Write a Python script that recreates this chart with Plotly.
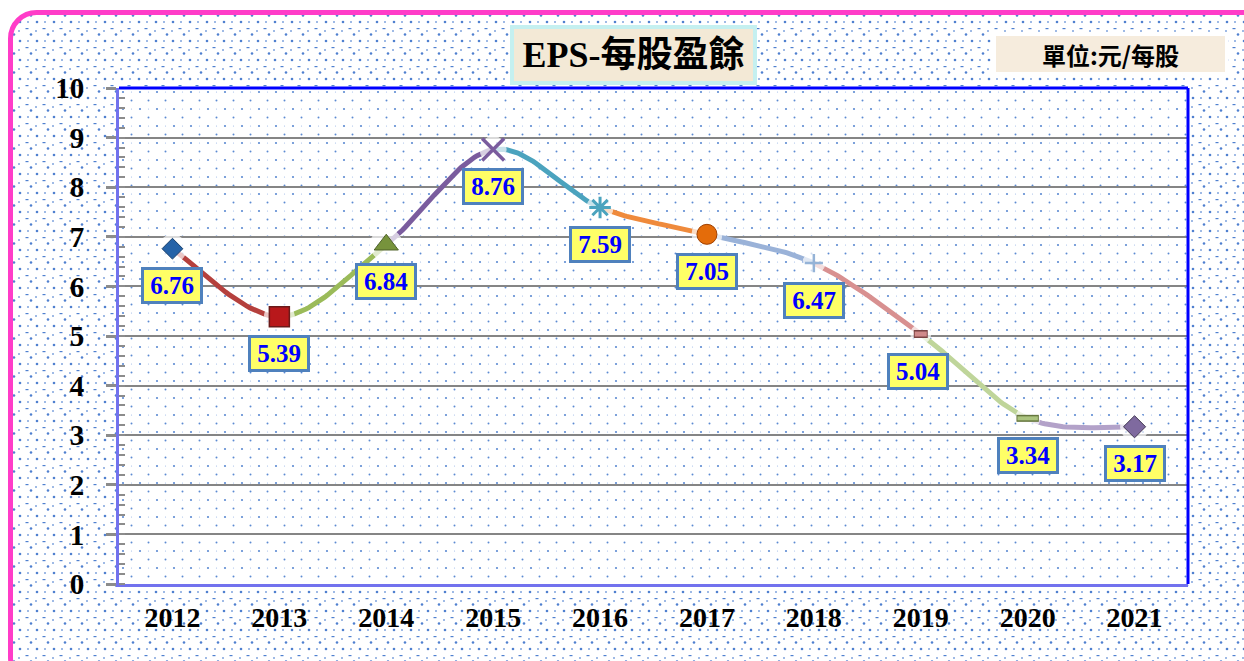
import base64
import plotly.graph_objects as go

# ---------------- data ----------------
years = ['2012', '2013', '2014', '2015', '2016', '2017', '2018', '2019', '2020', '2021']
eps = [6.76, 5.39, 6.84, 8.76, 7.59, 7.05, 6.47, 5.04, 3.34, 3.17]
y_ticks = list(range(0, 11))

# ---------------- styles ----------------
seg_colors = ['#B5403D', '#9BBB59', '#7A5C9E', '#4BA3BE', '#EF8A3C',
              '#9AB2D8', '#D89090', '#BFD59A', '#B3A2C9']
marker_styles = [
    dict(symbol='diamond', color='#2563A8', line=dict(color='#173E6B', width=1), size=16),
    dict(symbol='square', color='#B8181B', line=dict(color='#6A1A1A', width=1.5), size=20),
    dict(symbol='triangle-up', color='#77933C', line=dict(color='#4F6228', width=1), size=21),
    dict(symbol='x-thin-open', color='#7A5C9E', line=dict(color='#7A5C9E', width=3.5), size=22),
    dict(symbol='asterisk-open', color='#4BA3BE', line=dict(color='#4BA3BE', width=3), size=18),
    dict(symbol='circle', color='#E46C0A', line=dict(color='#A04000', width=1), size=20),
    dict(symbol='cross-thin-open', color='#95B3D7', line=dict(color='#95B3D7', width=2.5), size=13),
]
halo_sizes = [28, 30, 32, 26, 26, 30, 22, 20, 24, 28]

W, H = 1244, 661
ML, MR, MT, MB = 119, 56, 88, 77
PW, PH = W - ML - MR, H - MT - MB


def svg_uri(svg):
    return 'data:image/svg+xml;base64,' + base64.b64encode(svg.encode('utf-8')).decode('ascii')


outer_svg = f"""<svg xmlns='http://www.w3.org/2000/svg' width='{W}' height='{H}' viewBox='0 0 {W} {H}' preserveAspectRatio='none'>
<defs><pattern id='p' width='17' height='19' patternUnits='userSpaceOnUse'>
<circle cx='3' cy='3' r='1.3' fill='#4F80CF'/>
<rect x='8.5' y='9' width='3' height='1.2' fill='#4F80CF'/>
<circle cx='14' cy='15.5' r='1.3' fill='#4F80CF'/>
<circle cx='11' cy='3' r='1.0' fill='#7FA3DD'/>
<circle cx='2' cy='12' r='1.0' fill='#7FA3DD'/>
</pattern></defs>
<rect width='{W}' height='{H}' fill='white'/>
<rect x='10.5' y='12.5' width='{W + 20}' height='{H + 10}' rx='26' fill='white'/>
<rect x='10.5' y='12.5' width='{W + 20}' height='{H + 10}' rx='26' fill='url(#p)' stroke='#FF3CC8' stroke-width='5'/>
</svg>"""

inner_svg = f"""<svg xmlns='http://www.w3.org/2000/svg' width='{PW}' height='{PH}' viewBox='0 0 {PW} {PH}' preserveAspectRatio='none'>
<defs><pattern id='q' width='17' height='17' patternUnits='userSpaceOnUse'>
<circle cx='4' cy='4' r='1.1' fill='#5C8AD2'/>
<circle cx='12.5' cy='12.5' r='1.0' fill='#5C8AD2'/>
<circle cx='12.5' cy='4' r='0.6' fill='#9DB8E6'/>
</pattern></defs>
<rect width='{PW}' height='{PH}' fill='white'/>
<rect width='{PW}' height='{PH}' fill='url(#q)'/>
</svg>"""


# ---------------- smooth curve (Excel-like Bezier through points) ----------------
def bezier_segment(i, n=40):
    N = len(eps)
    P = [(k, eps[k]) for k in range(N)]
    pm = P[max(i - 1, 0)]
    p0 = P[i]
    p1 = P[i + 1]
    p2 = P[min(i + 2, N - 1)]
    c1 = (p0[0] + (p1[0] - pm[0]) / 6, p0[1] + (p1[1] - pm[1]) / 6)
    c2 = (p1[0] - (p2[0] - p0[0]) / 6, p1[1] - (p2[1] - p0[1]) / 6)
    xs, ys = [], []
    for j in range(n + 1):
        t = j / n
        a, b, c, d = (1 - t) ** 3, 3 * (1 - t) ** 2 * t, 3 * (1 - t) * t ** 2, t ** 3
        xs.append(a * p0[0] + b * c1[0] + c * c2[0] + d * p1[0])
        ys.append(a * p0[1] + b * c1[1] + c * c2[1] + d * p1[1])
    return xs, ys


fig = go.Figure()

for i in range(len(eps) - 1):
    bx, by = bezier_segment(i)
    fig.add_trace(go.Scatter(x=bx, y=by, mode='lines', hoverinfo='skip',
                             line=dict(color=seg_colors[i], width=5), showlegend=False))

idx = list(range(len(eps)))
# white halo around markers
fig.add_trace(go.Scatter(x=idx, y=eps, mode='markers', hoverinfo='skip', showlegend=False,
                         marker=dict(symbol='circle', color='white', size=halo_sizes)))

for i, st in enumerate(marker_styles):
    fig.add_trace(go.Scatter(x=[idx[i]], y=[eps[i]], mode='markers', showlegend=False,
                             marker=dict(symbol=st['symbol'], color=st['color'],
                                         size=st['size'], line=st['line'])))

# 2019 small rectangle marker
fig.add_trace(go.Scatter(x=[idx[7]], y=[eps[7]], mode='markers', showlegend=False,
                         marker=dict(symbol='line-ew', size=10, color='#7A4444',
                                     line=dict(color='#7A4444', width=8))))
fig.add_trace(go.Scatter(x=[idx[7]], y=[eps[7]], mode='markers', showlegend=False,
                         marker=dict(symbol='line-ew', size=8.6, color='#D08A8A',
                                     line=dict(color='#D08A8A', width=5))))
# 2020 long rectangle marker
fig.add_trace(go.Scatter(x=[idx[8]], y=[eps[8]], mode='markers', showlegend=False,
                         marker=dict(symbol='line-ew', size=16, color='#66773F',
                                     line=dict(color='#66773F', width=7))))
fig.add_trace(go.Scatter(x=[idx[8]], y=[eps[8]], mode='markers', showlegend=False,
                         marker=dict(symbol='line-ew', size=14.6, color='#ABC47F',
                                     line=dict(color='#ABC47F', width=4))))
# 2021 diamond
fig.add_trace(go.Scatter(x=[idx[9]], y=[eps[9]], mode='markers', showlegend=False,
                         marker=dict(symbol='diamond', size=17, color='#7F6A9F',
                                     line=dict(color='#3F3550', width=1))))

# data labels
label_xshift = [0, 0, 0, 0, 0, 0, 0, -3, 0, 0]
for i, v in enumerate(eps):
    fig.add_annotation(x=idx[i], y=v, text=f'{v:.2f}', showarrow=False,
                       xshift=label_xshift[i], yshift=-37, xanchor='center', yanchor='middle',
                       width=56, height=31, bgcolor='#FFFF66', bordercolor='#4F81BD',
                       borderwidth=3, borderpad=0,
                       font=dict(family='Liberation Serif', size=25, color='#0000FF', weight='bold'))

# title box
fig.add_annotation(xref='paper', yref='paper', x=(633 - ML) / PW, y=1 + (MT - 55) / PH,
                   xanchor='center', yanchor='middle',
                   text='EPS-每股盈餘', showarrow=False, width=239, height=52,
                   bgcolor='#F3E9D6', bordercolor='#C5F0F0', borderwidth=4, borderpad=0,
                   font=dict(family="Liberation Serif, 'Noto Sans CJK TC'", size=36,
                             color='black', weight='bold'))
# unit box
fig.add_annotation(xref='paper', yref='paper', x=(1110 - ML) / PW, y=1 + (MT - 54) / PH,
                   xanchor='center', yanchor='middle',
                   text='單位:元/每股', showarrow=False, width=229, height=36,
                   bgcolor='#F6ECDD', bordercolor='white', borderwidth=3, borderpad=0,
                   font=dict(family="'Noto Sans CJK TC'", size=24, color='black', weight='bold'))

fig.update_layout(
    width=W, height=H,
    margin=dict(l=ML, r=MR, t=MT, b=MB, pad=0),
    paper_bgcolor='white', plot_bgcolor='rgba(0,0,0,0)',
    images=[
        dict(source=svg_uri(outer_svg), xref='paper', yref='paper',
             x=-ML / PW, y=1 + MT / PH, sizex=W / PW, sizey=H / PH,
             xanchor='left', yanchor='top', sizing='stretch', layer='below'),
        dict(source=svg_uri(inner_svg), xref='paper', yref='paper',
             x=0, y=1, sizex=1, sizey=1,
             xanchor='left', yanchor='top', sizing='stretch', layer='below'),
    ],
    xaxis=dict(range=[-0.5, 9.5], tickvals=idx, ticktext=years, ticks='',
               showgrid=False, zeroline=False, showline=True, linecolor='#7272EE', linewidth=3,
               tickfont=dict(family='Liberation Serif', size=28, color='black', weight='bold'),
               ticklabelstandoff=6, fixedrange=True),
    xaxis2=dict(range=[-0.5, 9.5], overlaying='x', anchor='y', side='bottom',
                tickvals=[i - 0.5 for i in range(len(years) + 1)], ticks='outside',
                ticklen=8, tickwidth=3, tickcolor='#8C8C8C', showticklabels=False,
                showgrid=False, zeroline=False, showline=False),
    yaxis=dict(range=[0, 10], tickvals=y_ticks, ticks='outside', ticklen=10, tickwidth=3,
               tickcolor='#8C8C8C', showgrid=True, gridcolor='#858585', gridwidth=2.3,
               zeroline=False, showline=True, linecolor='#7272EE', linewidth=3,
               tickfont=dict(family='Liberation Serif', size=29, color='black', weight='bold'),
               ticklabelstandoff=16,
               minor=dict(dtick=0.2, ticks='inside', ticklen=6, tickwidth=2,
                          tickcolor='#8C8C8C', showgrid=False)),
    shapes=[
        dict(type='line', xref='paper', yref='paper', x0=0, x1=1, y0=1, y1=1,
             line=dict(color='#0000FF', width=3), layer='above'),
        dict(type='line', xref='paper', yref='paper', x0=1, x1=1, y0=0, y1=1,
             line=dict(color='#0000FF', width=3), layer='above'),
    ],
)

fig.write_html('out.html')
